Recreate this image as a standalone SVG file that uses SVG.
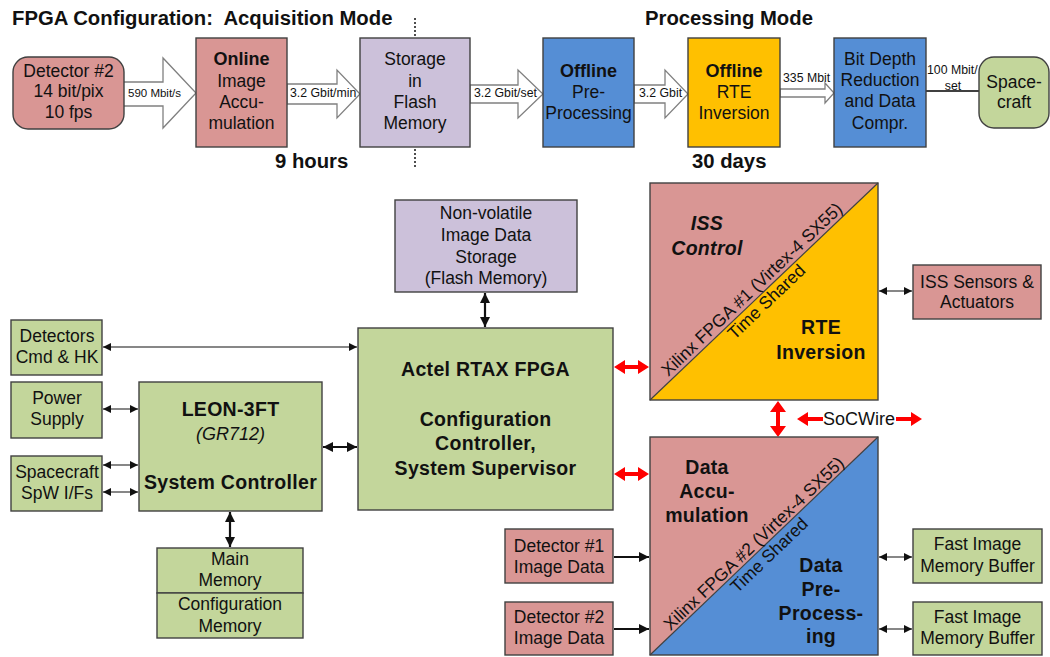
<svg xmlns="http://www.w3.org/2000/svg" width="1050" height="657" viewBox="0 0 1050 657">
  <style>
    text { font-family: "Liberation Sans", Arial, sans-serif; fill: #111; }
    .t { font-size: 17.5px; text-anchor: middle; }
    .tb { font-size: 18px; font-weight: bold; text-anchor: middle; }
    .big { font-size: 19.5px; font-weight: bold; text-anchor: middle; letter-spacing: 0.3px; }
    .head { font-size: 20.3px; font-weight: bold; white-space: pre; }
    .lbl { font-size: 12.3px; }
    .box { stroke: #404040; stroke-width: 1.4; }
    .red { fill: #d99694; }
    .blue { fill: #558ed5; }
    .green { fill: #c3d69b; }
    .lav { fill: #ccc1da; }
    .orange { fill: #ffc000; }
    .block { fill: #fff; stroke: #808080; stroke-width: 1.3; }
    .thin { stroke: #111; stroke-width: 1.2; fill: none; }
    .thick { stroke: #111; stroke-width: 2.2; fill: none; }
    .redarrow { fill: #ff0000; }
    .diag { font-size: 17.5px; text-anchor: middle; }
  </style>
  <defs>
    <marker id="ah" markerUnits="userSpaceOnUse" markerWidth="9" markerHeight="8" refX="8" refY="4" orient="auto-start-reverse">
      <path d="M0,0 L8,4 L0,8 z" fill="#111"/>
    </marker>
    <marker id="ahb" markerUnits="userSpaceOnUse" markerWidth="11" markerHeight="10" refX="10" refY="5" orient="auto-start-reverse">
      <path d="M0,0 L10,5 L0,10 z" fill="#111"/>
    </marker>
  </defs>

  <!-- headings of the configuration flow -->
  <text class="head" x="12" y="25" xml:space="preserve">FPGA Configuration:  Acquisition Mode</text>
  <text class="head" x="645" y="25">Processing Mode</text>
  <text class="head" x="275" y="168">9 hours</text>
  <text class="head" x="692" y="168">30 days</text>
  <line x1="415" y1="18" x2="415" y2="37" stroke="#222" stroke-width="1.6" stroke-dasharray="2,2"/>
  <line x1="415" y1="149" x2="415" y2="168" stroke="#222" stroke-width="1.6" stroke-dasharray="2,2"/>

  <!-- flow connectors -->
  <g id="flow-connectors">
    <polygon class="block" points="123,82 163,82 163,58 196,93 163,128 163,106 123,106"/>
    <polygon class="block" points="287,84 337,84 337,70 360,94 337,118 337,104 287,104"/>
    <polygon class="block" points="470,85 518,85 518,70 543,94 518,118 518,103 470,103"/>
    <polygon class="block" points="634,85 665,85 665,70 688,94 665,118 665,103 634,103"/>
    <polygon class="block" points="780,89 825,89 825,83 834,93 825,103 825,97 780,97"/>
    <line x1="926" y1="91" x2="979" y2="91" stroke="#404040" stroke-width="2.2"/>
    <text class="lbl" x="128" y="97" style="font-size:11.5px">590 Mbit/s</text>
    <text class="lbl" x="290" y="97">3.2 Gbit/min</text>
    <text class="lbl" x="474" y="97">3.2 Gbit/set</text>
    <text class="lbl" x="639" y="97">3.2 Gbit</text>
    <text class="lbl" x="783" y="82">335 Mbit</text>
    <text class="lbl" x="927" y="74">100 Mbit/</text>
    <text class="lbl" x="953" y="90" text-anchor="middle">set</text>
  </g>

  <g id="detector2-top">
    <rect class="box red" x="13" y="57" width="111" height="72" rx="15"/>
    <text class="t" x="68.5" y="77">Detector #2</text>
    <text class="t" x="68.5" y="97">14 bit/pix</text>
    <text class="t" x="68.5" y="118">10 fps</text>
  </g>
  <g id="online-accumulation">
    <rect class="box red" x="196" y="38" width="91" height="109"/>
    <text class="tb" x="241.5" y="65">Online</text>
    <text class="t" x="241.5" y="87">Image</text>
    <text class="t" x="241.5" y="108">Accu-</text>
    <text class="t" x="241.5" y="129">mulation</text>
  </g>
  <g id="flash-storage">
    <rect class="box lav" x="360" y="38" width="110" height="109"/>
    <text class="t" x="415" y="65">Storage</text>
    <text class="t" x="415" y="87">in</text>
    <text class="t" x="415" y="108">Flash</text>
    <text class="t" x="415" y="129">Memory</text>
  </g>
  <g id="offline-preprocessing">
    <rect class="box blue" x="543" y="38" width="91" height="109"/>
    <text class="tb" x="588.5" y="77">Offline</text>
    <text class="t" x="588.5" y="98">Pre-</text>
    <text class="t" x="588.5" y="119">Processing</text>
  </g>
  <g id="offline-rte">
    <rect class="box orange" x="688" y="38" width="92" height="109"/>
    <text class="tb" x="734" y="77">Offline</text>
    <text class="t" x="734" y="98">RTE</text>
    <text class="t" x="734" y="119">Inversion</text>
  </g>
  <g id="bit-depth">
    <rect class="box blue" x="834" y="38" width="92" height="109"/>
    <text class="t" x="880" y="65">Bit Depth</text>
    <text class="t" x="880" y="86">Reduction</text>
    <text class="t" x="880" y="107">and Data</text>
    <text class="t" x="880" y="129">Compr.</text>
  </g>
  <g id="spacecraft-top">
    <rect class="box green" x="979" y="57" width="70" height="71" rx="15"/>
    <text class="t" x="1014" y="88">Space-</text>
    <text class="t" x="1014" y="108">craft</text>
  </g>

  <!-- architecture connectors -->
  <g id="connectors">
    <line class="thick" x1="485" y1="293" x2="485" y2="327" marker-start="url(#ahb)" marker-end="url(#ahb)"/>
    <line class="thin" x1="103" y1="347" x2="357" y2="347" marker-start="url(#ah)" marker-end="url(#ah)"/>
    <line class="thin" x1="103" y1="409" x2="138" y2="409" marker-start="url(#ah)" marker-end="url(#ah)"/>
    <line class="thin" x1="103" y1="465" x2="138" y2="465" marker-start="url(#ah)" marker-end="url(#ah)"/>
    <line class="thin" x1="103" y1="492" x2="138" y2="492" marker-start="url(#ah)" marker-end="url(#ah)"/>
    <line class="thick" x1="323" y1="447" x2="357" y2="447" marker-start="url(#ahb)" marker-end="url(#ahb)"/>
    <line class="thick" x1="230" y1="512" x2="230" y2="547" marker-start="url(#ahb)" marker-end="url(#ahb)"/>
    <line class="thin" x1="879" y1="291" x2="912" y2="291" marker-start="url(#ah)" marker-end="url(#ah)"/>
    <line class="thin" x1="879" y1="557" x2="912" y2="557" marker-start="url(#ah)" marker-end="url(#ah)"/>
    <line class="thin" x1="879" y1="629" x2="912" y2="629" marker-start="url(#ah)" marker-end="url(#ah)"/>
    <line class="thick" x1="614" y1="557" x2="649" y2="557" marker-end="url(#ahb)"/>
    <line class="thick" x1="614" y1="629" x2="649" y2="629" marker-end="url(#ahb)"/>
    <!-- SoCWire links -->
    <polygon class="redarrow" points="614,367 625,360 625,365 638,365 638,360 649,367 638,374 638,369 625,369 625,374"/>
    <polygon class="redarrow" points="614,474 625,467 625,472 638,472 638,467 649,474 638,481 638,476 625,476 625,481"/>
    <polygon class="redarrow" points="778,401 770,412 776,412 776,426 770,426 778,437 786,426 780,426 780,412 786,412"/>
    <polygon class="redarrow" points="797,419 808,412 808,417 823,417 823,421 808,421 808,426"/>
    <polygon class="redarrow" points="922,419 911,412 911,417 896,417 896,421 911,421 911,426"/>
    <text x="859" y="425" style="font-size:18px;text-anchor:middle">SoCWire</text>
  </g>

  <g id="nonvolatile-storage">
    <rect class="box lav" x="395" y="200" width="182" height="92"/>
    <text class="t" x="486" y="219">Non-volatile</text>
    <text class="t" x="486" y="241">Image Data</text>
    <text class="t" x="486" y="263">Storage</text>
    <text class="t" x="486" y="284">(Flash Memory)</text>
  </g>
  <g id="actel-fpga">
    <rect class="box green" x="358" y="328" width="255" height="182"/>
    <text class="big" x="485.5" y="376">Actel RTAX FPGA</text>
    <text class="big" x="485.5" y="426">Configuration</text>
    <text class="big" x="485.5" y="450">Controller,</text>
    <text class="big" x="485.5" y="475">System Supervisor</text>
  </g>
  <g id="detectors-cmd">
    <rect class="box green" x="11" y="320" width="91" height="55"/>
    <text class="t" x="57" y="342">Detectors</text>
    <text class="t" x="57" y="363">Cmd &amp; HK</text>
  </g>
  <g id="power-supply">
    <rect class="box green" x="11" y="382" width="91" height="56"/>
    <text class="t" x="57" y="404">Power</text>
    <text class="t" x="57" y="425">Supply</text>
  </g>
  <g id="spacecraft-spw">
    <rect class="box green" x="11" y="456" width="91" height="55"/>
    <text class="t" x="57" y="478">Spacecraft</text>
    <text class="t" x="57" y="499">SpW I/Fs</text>
  </g>
  <g id="leon">
    <rect class="box green" x="139" y="382" width="183" height="129"/>
    <text class="big" x="230.5" y="416">LEON-3FT</text>
    <text class="t" x="230.5" y="440" style="font-style:italic;font-size:18px">(GR712)</text>
    <text class="big" x="230.5" y="489">System Controller</text>
  </g>
  <g id="memories">
    <rect class="box green" x="157" y="548" width="146" height="45"/>
    <rect class="box green" x="157" y="593" width="146" height="45"/>
    <text class="t" x="230" y="565">Main</text>
    <text class="t" x="230" y="586">Memory</text>
    <text class="t" x="230" y="610">Configuration</text>
    <text class="t" x="230" y="632">Memory</text>
  </g>

  <g id="xilinx-fpga-1">
    <polygon class="red" points="650,183 878,183 650,400"/>
    <polygon class="orange" points="878,183 878,400 650,400"/>
    <rect x="650" y="183" width="228" height="217" fill="none" class="box"/>
    <line x1="650" y1="400" x2="878" y2="183" stroke="#404040" stroke-width="1.2"/>
    <g transform="translate(650,400) rotate(-43.6)">
      <text class="diag" x="150" y="-4">Xilinx FPGA #1 (Virtex-4 SX55)</text>
      <text class="diag" x="152" y="15">Time Shared</text>
    </g>
    <text class="big" x="707" y="230" style="font-style:italic">ISS</text>
    <text class="big" x="707" y="255" style="font-style:italic">Control</text>
    <text class="big" x="821" y="334">RTE</text>
    <text class="big" x="821" y="359">Inversion</text>
  </g>
  <g id="iss-sensors">
    <rect class="box red" x="913" y="265" width="128" height="54"/>
    <text class="t" x="977" y="288">ISS Sensors &amp;</text>
    <text class="t" x="977" y="308">Actuators</text>
  </g>

  <g id="xilinx-fpga-2">
    <polygon class="red" points="650,437 878,437 650,655"/>
    <polygon class="blue" points="878,437 878,655 650,655"/>
    <rect x="650" y="437" width="228" height="218" fill="none" class="box"/>
    <line x1="650" y1="655" x2="878" y2="437" stroke="#404040" stroke-width="1.2"/>
    <g transform="translate(650,655) rotate(-43.7)">
      <text class="diag" x="152" y="-3">Xilinx FPGA #2 (Virtex-4 SX55)</text>
      <text class="diag" x="155" y="16">Time Shared</text>
    </g>
    <text class="big" x="707" y="474">Data</text>
    <text class="big" x="707" y="498">Accu-</text>
    <text class="big" x="707" y="522">mulation</text>
    <text class="big" x="821" y="572">Data</text>
    <text class="big" x="821" y="596">Pre-</text>
    <text class="big" x="821" y="620">Process-</text>
    <text class="big" x="821" y="643">ing</text>
  </g>
  <g id="detector1-image">
    <rect class="box red" x="505" y="529" width="108" height="54"/>
    <text class="t" x="559" y="552">Detector #1</text>
    <text class="t" x="559" y="573">Image Data</text>
  </g>
  <g id="detector2-image">
    <rect class="box red" x="505" y="602" width="108" height="53"/>
    <text class="t" x="559" y="623">Detector #2</text>
    <text class="t" x="559" y="644">Image Data</text>
  </g>
  <g id="fast-buffer-1">
    <rect class="box green" x="913" y="529" width="129" height="54"/>
    <text class="t" x="977.5" y="550">Fast Image</text>
    <text class="t" x="977.5" y="572">Memory Buffer</text>
  </g>
  <g id="fast-buffer-2">
    <rect class="box green" x="913" y="602" width="129" height="53"/>
    <text class="t" x="977.5" y="623">Fast Image</text>
    <text class="t" x="977.5" y="644">Memory Buffer</text>
  </g>
</svg>
